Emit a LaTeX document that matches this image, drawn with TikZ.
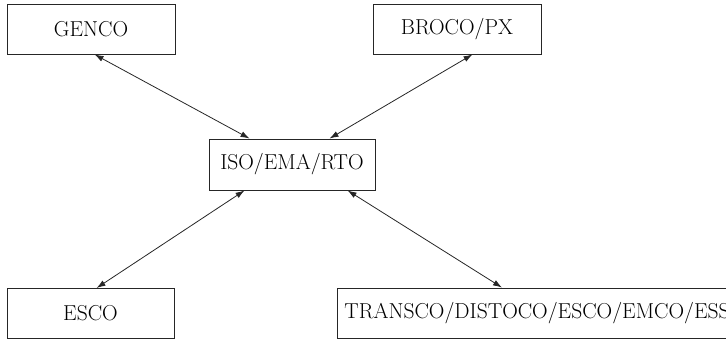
\documentclass[tikz,border=0pt]{standalone}
\usepackage{fontspec}
\setmainfont{Latin Modern Roman}
\usepackage{tikz}
\usetikzlibrary{arrows.meta}

\begin{document}
\begin{tikzpicture}[
    x=1pt, y=-1pt,
    >={Latex[length=9pt,width=6pt]},
    font=\fontsize{21.6}{26}\selectfont,
    entity/.style={draw=black!85, line width=0.9pt, minimum height=50pt, inner xsep=7pt, align=center},
    link/.style={<->, line width=0.8pt, draw=black!85}
]
\useasboundingbox (0,0) rectangle (726,339);
\clip (0,0) rectangle (726,339);

% Top row
\node[entity, minimum width=168pt] (genco) at (91,29) {GENCO};
\node[entity, minimum width=168pt] (broco) at (457,29) {BROCO/PX};

% Central operator
\node[entity, minimum width=166pt, minimum height=51pt] (iso) at (292,164.5) {ISO/EMA/RTO};

% Bottom row
\node[entity, minimum width=167pt] (esco) at (90.5,313.5) {ESCO};
\node[entity, anchor=west] (transco) at (337,313) {TRANSCO/DISTOCO/ESCO/EMCO/ESS};

% Links
\draw[link] ([xshift=88pt]genco.south west) -- ([xshift=41pt]iso.north west);
\draw[link] ([xshift=100pt]broco.south west) -- ([xshift=121pt]iso.north west);
\draw[link] ([xshift=36pt]iso.south west) -- ([xshift=90pt]esco.north west);
\draw[link] ([xshift=139pt]iso.south west) -- ([xshift=165pt]transco.north west);

\end{tikzpicture}
\end{document}
